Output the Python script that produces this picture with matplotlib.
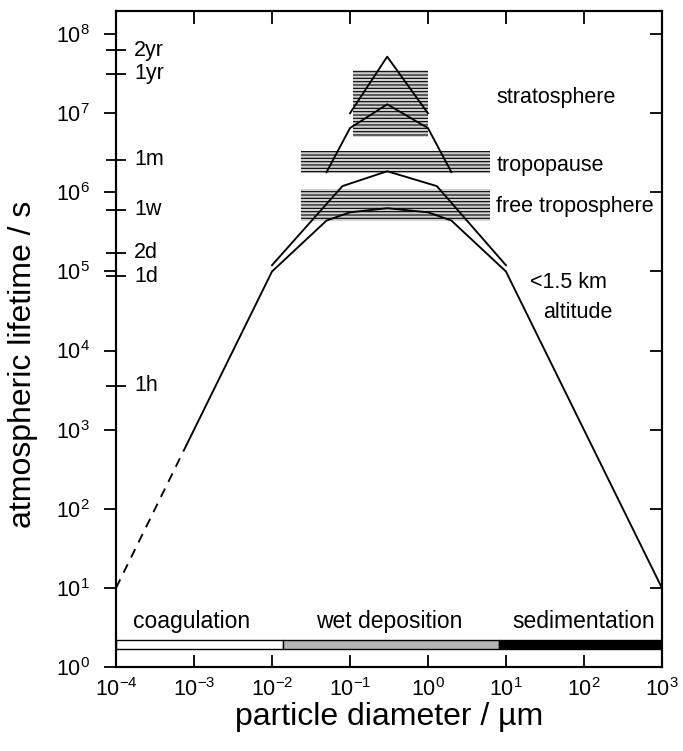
import matplotlib
matplotlib.use("Agg")
import matplotlib.pyplot as plt
import matplotlib.transforms as mtransforms
import numpy as np

plt.rcParams['font.family'] = ['Liberation Sans', 'DejaVu Sans']
plt.rcParams['mathtext.fontset'] = 'custom'
plt.rcParams['mathtext.rm'] = 'Liberation Sans'
plt.rcParams['hatch.linewidth'] = 0.8

# ---- data ----
# dashed (extrapolated) part of the main curve
dash_x = [1e-4, 8e-4]
dash_y = [1e1, 6.4e2]
# main curve, "<1.5 km altitude"
low_x = [8e-4, 1e-2, 0.05, 0.1, 0.3, 1.0, 2.0, 10.0, 1e3]
low_y = [6.4e2, 1e5, 4.4e5, 5.6e5, 6.3e5, 5.6e5, 4.4e5, 1e5, 1e1]
# free troposphere curve
ft_x = [0.01, 0.08, 0.3, 1.3, 10.0]
ft_y = [1.2e5, 1.2e6, 1.85e6, 1.2e6, 1.2e5]
# tropopause curve
tp_x = [0.05, 0.1, 0.3, 1.0, 2.0]
tp_y = [1.8e6, 6.5e6, 1.3e7, 6.5e6, 1.8e6]
# stratosphere curve
st_x = [0.1, 0.3, 1.0]
st_y = [1e7, 5.2e7, 1e7]

# hatched bands
band_names = ['stratosphere', 'tropopause', 'free troposphere']
band_x0 = [0.11, 0.0234, 0.0234]
band_x1 = [1.0, 6.2, 6.2]
band_y0 = [5e6, 1.74e6, 4.3e5]
band_y1 = [3.5e7, 3.3e6, 1.1e6]
band_label_y = [1.6e7, 2.2e6, 6.6e5]

# altitude label
alt_labels = ['<1.5 km', 'altitude']
alt_label_x = [20.4, 29.6]
alt_label_y = [7.2e4, 3.0e4]

# removal-process bar
proc_names = ['coagulation', 'wet deposition', 'sedimentation']
proc_x0 = [1e-4, 0.0138, 8.1]
proc_x1 = [0.0138, 8.1, 1e3]
proc_colors = ['white', '#b4b4b4', 'black']
proc_label_x = [9.3e-4, 0.316, 100]
bar_y0, bar_y1 = 1.7, 2.2

# time reference marks
time_labels = ['2yr', '1yr', '1m', '1w', '2d', '1d', '1h']
time_seconds = [6.3e7, 3.15e7, 2.6e6, 6.05e5, 1.73e5, 8.64e4, 3600]

fig = plt.figure(figsize=(6.83, 7.51), dpi=100)
ax = fig.add_axes([0.170, 0.112, 0.799, 0.873])
ax.set_xscale('log')
ax.set_yscale('log')
ax.set_xlim(1e-4, 1e3)
ax.set_ylim(1, 1.95e8)

# bands
for x0, x1, y0, y1 in zip(band_x0, band_x1, band_y0, band_y1):
    ax.fill_between([x0, x1], [y0, y0], [y1, y1], facecolor='#d0d0d0',
                    edgecolor='black', hatch='-----', linewidth=0, zorder=1)

lw = 1.35
ax.plot(dash_x, dash_y, color='black', lw=lw, ls=(0, (5, 4)), zorder=3)
for xs, ys in [(low_x, low_y), (ft_x, ft_y), (tp_x, tp_y), (st_x, st_y)]:
    ax.plot(xs, ys, color='black', lw=lw, zorder=3)

# process bar
for x0, x1, c in zip(proc_x0, proc_x1, proc_colors):
    ax.fill_between([x0, x1], [bar_y0, bar_y0], [bar_y1, bar_y1], facecolor=c,
                    edgecolor='black', linewidth=1.0, zorder=2)
for name, xl in zip(proc_names, proc_label_x):
    ax.text(xl, 3.7, name, ha='center', va='center', fontsize=16.5)

# region labels
for name, yl in zip(band_names, band_label_y):
    ax.text(7.5, yl, name, ha='left', va='center', fontsize=15.5)
for name, xl, yl in zip(alt_labels, alt_label_x, alt_label_y):
    ax.text(xl, yl, name, ha='left', va='center', fontsize=15.5)

# time marks on left axis
ax.set_yticks(time_seconds, minor=True)
ax.set_yticklabels([], minor=True)
trans = mtransforms.blended_transform_factory(ax.transAxes, ax.transData)
for lab, t in zip(time_labels, time_seconds):
    ax.text(0.033, t, lab, transform=trans, ha='left', va='center', fontsize=15.5)

ax.set_xticks([10.0 ** k for k in range(-4, 4)])
ax.set_yticks([10.0 ** k for k in range(0, 9)])
ax.xaxis.set_minor_locator(matplotlib.ticker.NullLocator())

ax.tick_params(axis='x', which='major', direction='in', length=9, width=1.3,
               top=True, labelsize=15.5, pad=8)
ax.tick_params(axis='y', which='major', direction='out', length=9, width=1.3,
               labelsize=15.5, pad=10)
ax.tick_params(axis='y', which='minor', direction='inout', length=14, width=1.3,
               right=False)
# right axis ticks inward
ax2 = ax.twinx()
ax2.set_yscale('log')
ax2.set_ylim(ax.get_ylim())
ax2.set_yticks([10.0 ** k for k in range(1, 9)])
ax2.yaxis.set_minor_locator(matplotlib.ticker.NullLocator())
ax2.tick_params(axis='y', which='major', direction='in', length=9, width=1.3,
                labelright=False)

for a in (ax, ax2):
    for s in a.spines.values():
        s.set_linewidth(1.5)

ax.set_xlabel('particle diameter / µm', fontsize=23)
ax.set_ylabel('atmospheric lifetime / s', fontsize=23)
ax.xaxis.set_label_coords(0.5, -0.053)
ax.yaxis.set_label_coords(-0.143, 0.462)

fig.savefig('out.png', dpi=100)
